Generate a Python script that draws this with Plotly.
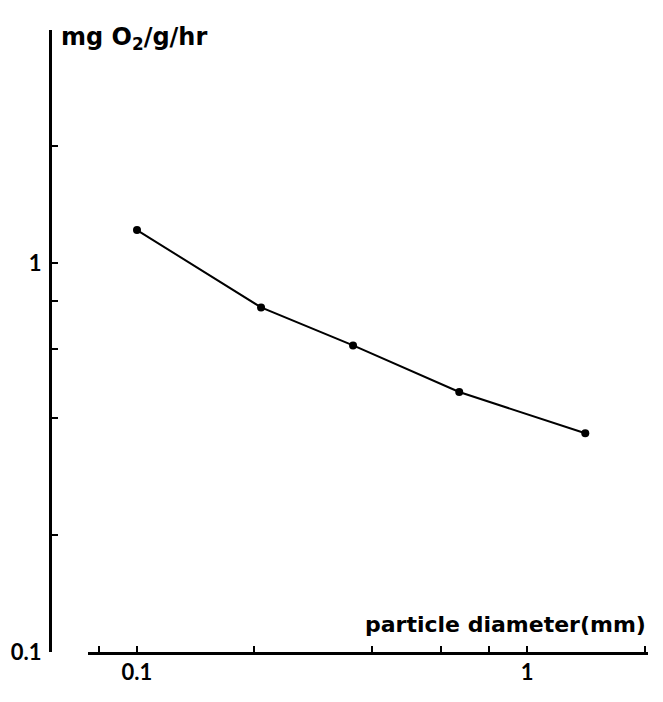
import plotly.graph_objects as go

# Data (log-log)
diameter_mm = [0.1, 0.208, 0.358, 0.67, 1.41]
uptake_mg_o2_g_hr = [1.215, 0.769, 0.614, 0.466, 0.365]

x_label_vals = [0.1, 1]
x_label_text = ["0.1", "1"]
x_minor_vals = [0.08, 0.2, 0.4, 0.6, 0.8, 2]
y_label_vals = [0.1, 1]
y_label_text = ["0.1", "1"]
y_minor_vals = [0.2, 0.4, 0.6, 0.8, 2, 3.97]

x_title = "particle diameter(mm)"
y_title = "mg O<sub>2</sub>/g/hr"

TICK_FONT = "Lato"
TITLE_FONT = "DejaVu Sans"

fig = go.Figure()
fig.add_trace(go.Scatter(
    x=diameter_mm, y=uptake_mg_o2_g_hr, mode="lines+markers",
    line=dict(color="black", width=2),
    marker=dict(color="black", size=8),
    showlegend=False, cliponaxis=False,
))

# the page adds an 8px offset; target pixel positions minus 8
W, H = 663, 702
OFF = 8
px_left, px_right, px_top, px_bottom = 50 - OFF, 648 - OFF, 30 - OFF, 652 - OFF
ml, mr, mt, mb = px_left, W - px_right, px_top, H - px_bottom
pw = px_right - px_left
ph = px_bottom - px_top

def tick_common(standoff):
    return dict(
        ticks="inside", ticklen=6, tickwidth=2, tickcolor="black",
        showgrid=False, zeroline=False, ticklabelstandoff=standoff,
        tickfont=dict(family=TICK_FONT, size=22, weight="bold"),
        tickmode="array", automargin=False,
    )

fig.update_layout(
    width=W, height=H,
    margin=dict(l=ml, r=mr, t=mt, b=mb, autoexpand=False),
    paper_bgcolor="white", plot_bgcolor="white",
    font=dict(family=TICK_FONT, color="black", size=18, weight="bold"),
    xaxis=dict(
        type="log", range=[-1.1256, 0.310],
        domain=[(88 - 50) / pw, 1],
        showline=True, linecolor="black", linewidth=2.5,
        tickvals=x_label_vals, ticktext=x_label_text,
        minor=dict(tickmode="array", tickvals=x_minor_vals, ticks="inside",
                   ticklen=6, tickwidth=2, tickcolor="black", showgrid=False),
        anchor="y",
        **tick_common(-1),
    ),
    yaxis=dict(
        type="log", range=[-1, 0.599],
        anchor="free", position=0,
        showline=True, linecolor="black", linewidth=3,
        tickvals=y_label_vals, ticktext=y_label_text,
        minor=dict(tickmode="array", tickvals=y_minor_vals, ticks="inside",
                   ticklen=6, tickwidth=2, tickcolor="black", showgrid=False),
        **tick_common(3),
    ),
)

fig.add_annotation(
    text=x_title, xref="paper", yref="paper",
    x=1, y=(652 - 624) / ph, xanchor="right", yanchor="middle",
    showarrow=False, font=dict(family=TITLE_FONT, size=22, weight="bold"),
)
fig.add_annotation(
    text=y_title, xref="paper", yref="paper",
    x=(59 - 50) / pw, y=(652 - 39) / ph, xanchor="left", yanchor="middle",
    showarrow=False, font=dict(family=TITLE_FONT, size=24, weight="bold"),
)

fig.write_html("out.html")
